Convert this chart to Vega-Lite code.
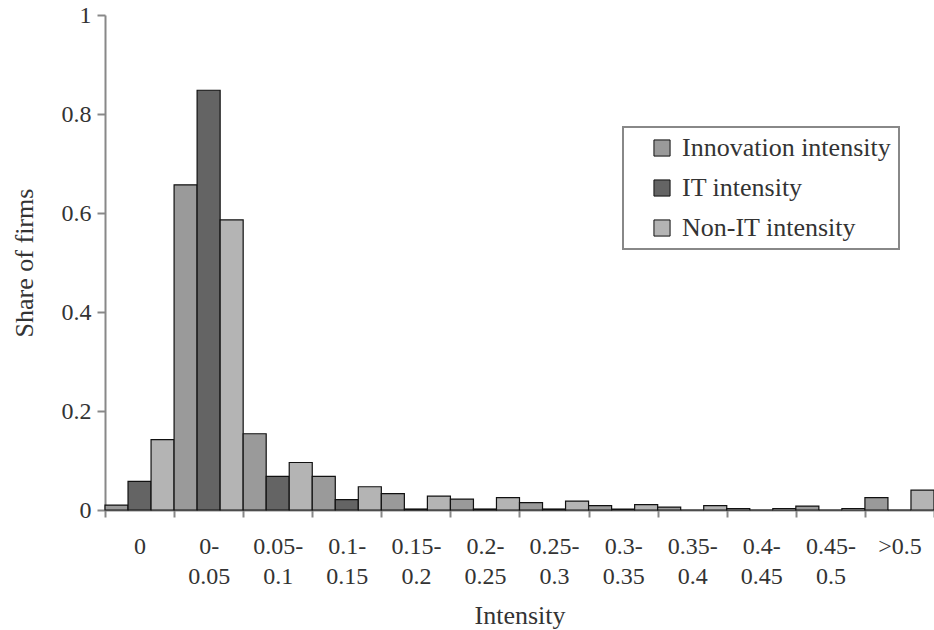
{
  "$schema": "https://vega.github.io/schema/vega-lite/v6.json",
  "autosize": {"type": "none"},
  "padding": {"left": 105, "top": 15, "right": 0, "bottom": 120},
  "width": 829,
  "height": 495,
  "background": "white",
  "config": {
    "view": {"stroke": null},
    "font": "'Liberation Serif', 'Times New Roman', Times, serif",
    "axis": {"labelFont": "'Liberation Serif', 'Times New Roman', Times, serif", "titleFont": "'Liberation Serif', 'Times New Roman', Times, serif"},
    "legend": {"labelFont": "'Liberation Serif', 'Times New Roman', Times, serif"}
  },
  "data": {
    "values": [
      {"range": "0", "series": "Innovation intensity", "share": 0.01},
      {"range": "0", "series": "IT intensity", "share": 0.058},
      {"range": "0", "series": "Non-IT intensity", "share": 0.142},
      {"range": "0-0.05", "series": "Innovation intensity", "share": 0.657},
      {"range": "0-0.05", "series": "IT intensity", "share": 0.848},
      {"range": "0-0.05", "series": "Non-IT intensity", "share": 0.586},
      {"range": "0.05-0.1", "series": "Innovation intensity", "share": 0.154},
      {"range": "0.05-0.1", "series": "IT intensity", "share": 0.068},
      {"range": "0.05-0.1", "series": "Non-IT intensity", "share": 0.096},
      {"range": "0.1-0.15", "series": "Innovation intensity", "share": 0.068},
      {"range": "0.1-0.15", "series": "IT intensity", "share": 0.021},
      {"range": "0.1-0.15", "series": "Non-IT intensity", "share": 0.047},
      {"range": "0.15-0.2", "series": "Innovation intensity", "share": 0.033},
      {"range": "0.15-0.2", "series": "IT intensity", "share": 0.002},
      {"range": "0.15-0.2", "series": "Non-IT intensity", "share": 0.028},
      {"range": "0.2-0.25", "series": "Innovation intensity", "share": 0.022},
      {"range": "0.2-0.25", "series": "IT intensity", "share": 0.002},
      {"range": "0.2-0.25", "series": "Non-IT intensity", "share": 0.025},
      {"range": "0.25-0.3", "series": "Innovation intensity", "share": 0.015},
      {"range": "0.25-0.3", "series": "IT intensity", "share": 0.002},
      {"range": "0.25-0.3", "series": "Non-IT intensity", "share": 0.018},
      {"range": "0.3-0.35", "series": "Innovation intensity", "share": 0.009},
      {"range": "0.3-0.35", "series": "IT intensity", "share": 0.002},
      {"range": "0.3-0.35", "series": "Non-IT intensity", "share": 0.011},
      {"range": "0.35-0.4", "series": "Innovation intensity", "share": 0.006},
      {"range": "0.35-0.4", "series": "IT intensity", "share": 0},
      {"range": "0.35-0.4", "series": "Non-IT intensity", "share": 0.009},
      {"range": "0.4-0.45", "series": "Innovation intensity", "share": 0.003},
      {"range": "0.4-0.45", "series": "IT intensity", "share": 0},
      {"range": "0.4-0.45", "series": "Non-IT intensity", "share": 0.003},
      {"range": "0.45-0.5", "series": "Innovation intensity", "share": 0.008},
      {"range": "0.45-0.5", "series": "IT intensity", "share": 0},
      {"range": "0.45-0.5", "series": "Non-IT intensity", "share": 0.003},
      {"range": ">0.5", "series": "Innovation intensity", "share": 0.025},
      {"range": ">0.5", "series": "IT intensity", "share": 0},
      {"range": ">0.5", "series": "Non-IT intensity", "share": 0.04}
    ]
  },
  "mark": {"type": "bar", "stroke": "#111", "strokeWidth": 1.2},
  "encoding": {
    "x": {
      "field": "range",
      "type": "nominal",
      "sort": ["0", "0-0.05", "0.05-0.1", "0.1-0.15", "0.15-0.2", "0.2-0.25", "0.25-0.3", "0.3-0.35", "0.35-0.4", "0.4-0.45", "0.45-0.5", ">0.5"],
      "scale": {"paddingInner": 0, "paddingOuter": 0},
      "title": "Intensity",
      "axis": {
        "labelAngle": 0,
        "tickBand": "extent",
        "tickSize": 7,
        "tickColor": "#888",
        "tickWidth": 2,
        "domainColor": "#888",
        "domainWidth": 2,
        "labelFontSize": 24,
        "labelColor": "#333",
        "labelLineHeight": 30,
        "labelPadding": 17,
        "labelExpr": "indexof(datum.label, '-') > 0 ? [substring(datum.label, 0, indexof(datum.label, '-') + 1), substring(datum.label, indexof(datum.label, '-') + 1)] : datum.label",
        "titleFontSize": 26,
        "titleFontWeight": "normal",
        "titleColor": "#333",
        "titlePadding": 14
      }
    },
    "xOffset": {
      "field": "series",
      "type": "nominal",
      "sort": ["Innovation intensity", "IT intensity", "Non-IT intensity"],
      "scale": {"paddingInner": 0, "paddingOuter": 0}
    },
    "y": {
      "field": "share",
      "type": "quantitative",
      "scale": {"domain": [0, 1]},
      "title": "Share of firms",
      "axis": {
        "values": [0, 0.2, 0.4, 0.6, 0.8, 1],
        "format": "~g",
        "grid": false,
        "tickSize": 8,
        "tickColor": "#888",
        "tickWidth": 2,
        "domainColor": "#888",
        "domainWidth": 2,
        "labelFontSize": 24,
        "labelColor": "#333",
        "labelPadding": 6,
        "titleFontSize": 26,
        "titleFontWeight": "normal",
        "titleColor": "#333",
        "titlePadding": 24
      }
    },
    "fill": {
      "field": "series",
      "type": "nominal",
      "scale": {
        "domain": ["Innovation intensity", "IT intensity", "Non-IT intensity"],
        "range": ["#9a9a9a", "#646464", "#b4b4b4"]
      },
      "legend": {
        "title": null,
        "orient": "none",
        "legendX": 518,
        "legendY": 112,
        "direction": "vertical",
        "fillColor": "white",
        "strokeColor": "#888",
        "padding": 8,
        "symbolType": "square",
        "symbolSize": 260,
        "symbolStrokeColor": "#111",
        "symbolStrokeWidth": 1,
        "symbolOffset": 18,
        "labelOffset": 7,
        "labelFontSize": 26,
        "labelColor": "#333",
        "labelLimit": 400,
        "rowPadding": 14,
        "encode": {"legend": {"update": {"strokeWidth": {"value": 2}}}}
      }
    }
  }
}
